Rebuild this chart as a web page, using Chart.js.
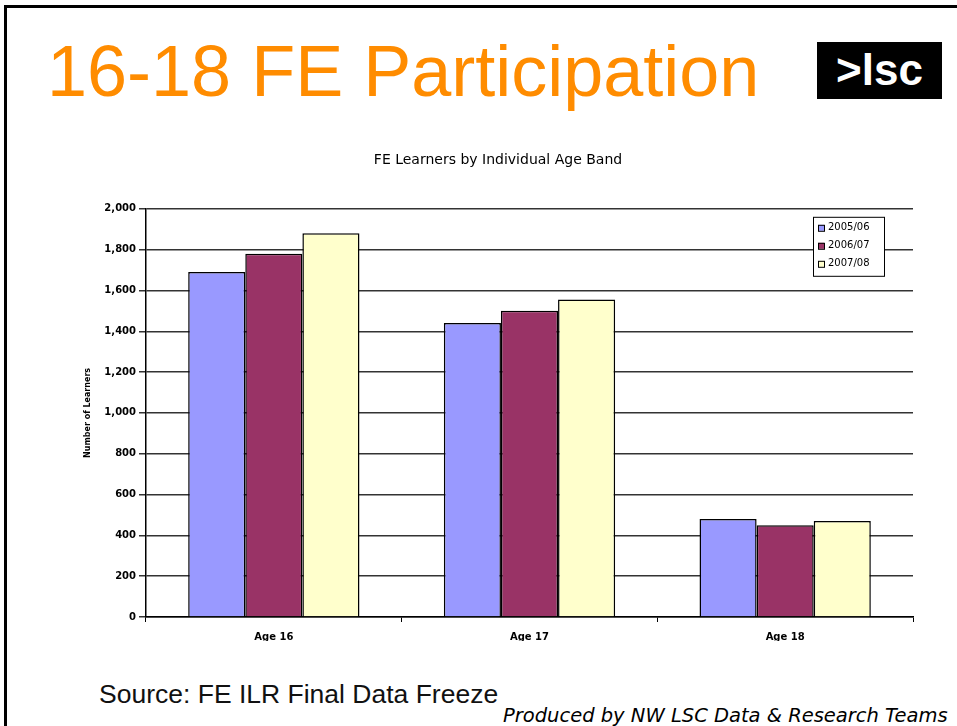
<!DOCTYPE html>
<html lang="en">
<head>
    <meta charset="UTF-8">
    <title>16-18 FE Participation</title>
    <style>
        body, html {
            margin: 0;
            padding: 0;
            width: 957px;
            height: 726px;
            overflow: hidden;
            background: #ffffff;
            font-family: Arial, "Liberation Sans", sans-serif;
        }

        .frame {
            position: absolute;
            left: 4px;
            top: 5px;
            width: 1000px;
            height: 800px;
            border-top: 3px solid #000;
            border-left: 3px solid #000;
        }

        .heading {
            position: absolute;
            left: 47px;
            top: 31px;
            font-size: 72px;
            color: #ff8c00;
            line-height: 80px;
            white-space: nowrap;
        }

        .logo {
            position: absolute;
            left: 817px;
            top: 42px;
            width: 125px;
            height: 57px;
            background: #000;
            color: #fff;
            font-family: "Liberation Sans", Arial, sans-serif;
            font-weight: bold;
            font-size: 44px;
            line-height: 55px;
            text-align: center;
            letter-spacing: 0px;
        }

        .chart-box {
            position: absolute;
            left: 0;
            top: 130px;
            width: 957px;
            height: 530px;
        }

        .source {
            position: absolute;
            left: 99px;
            top: 679px;
            font-size: 26.5px;
            color: #111;
            white-space: nowrap;
        }

        .credit {
            position: absolute;
            left: 503px;
            top: 704px;
            font-family: "DejaVu Sans", sans-serif;
            font-style: italic;
            font-size: 19.5px;
            color: #000;
            white-space: nowrap;
        }
    </style>
</head>
<body>
    <div class="frame"></div>
    <div class="heading">16-18 FE Participation</div>
    <div class="logo">&gt;lsc</div>

    <div class="chart-box">
        <canvas id="age-chart" width="957" height="530"></canvas>
    </div>

    <div class="source">Source: FE ILR Final Data Freeze</div>
    <div class="credit">Produced by NW LSC Data &amp; Research Teams</div>

    <script src="https://cdn.jsdelivr.net/npm/chart.js"></script>
    <script>
        // values
        const ageBands = ['Age 16', 'Age 17', 'Age 18'];
        const years = ['2005/06', '2006/07', '2007/08'];
        const learners0506 = [1690, 1440, 480];
        const learners0607 = [1780, 1500, 450];
        const learners0708 = [1880, 1555, 470];
        const yTicks = [0, 200, 400, 600, 800, 1000, 1200, 1400, 1600, 1800, 2000];

        const barColours = ['#9999ff', '#993366', '#ffffcc'];

        // legend box sits inside the plot, top right
        const boxLegend = {
            id: 'boxLegend',
            afterDraw(chart) {
                const ctx = chart.ctx;
                const area = chart.chartArea;
                const x = area.right - 100;
                const y = area.top + 8;
                const w = 71;
                const h = 59;
                ctx.save();
                ctx.fillStyle = '#fff';
                ctx.fillRect(x, y, w, h);
                ctx.strokeStyle = '#000';
                ctx.lineWidth = 1;
                ctx.strokeRect(x + 0.5, y + 0.5, w, h);
                ctx.font = '10px "DejaVu Sans"';
                ctx.textBaseline = 'middle';
                chart.data.datasets.forEach((ds, i) => {
                    const rowY = y + 11 + i * 18;
                    ctx.fillStyle = ds.backgroundColor;
                    ctx.fillRect(x + 5, rowY - 3, 6, 6);
                    ctx.strokeStyle = '#000';
                    ctx.strokeRect(x + 5.5, rowY - 2.5, 6, 6);
                    ctx.fillStyle = '#000';
                    ctx.fillText(ds.label, x + 15, rowY);
                });
                ctx.restore();
            }
        };

        const ctx = document.getElementById('age-chart').getContext('2d');
        new Chart(ctx, {
            type: 'bar',
            data: {
                labels: ageBands,
                datasets: [
                    { label: years[0], data: learners0506, backgroundColor: barColours[0] },
                    { label: years[1], data: learners0607, backgroundColor: barColours[1] },
                    { label: years[2], data: learners0708, backgroundColor: barColours[2] }
                ]
            },
            options: {
                responsive: false,
                animation: false,
                layout: {
                    padding: { left: 83, right: 44, top: 0, bottom: 19 }
                },
                datasets: {
                    bar: {
                        borderColor: '#000',
                        borderWidth: 1.5,
                        categoryPercentage: 0.67,
                        barPercentage: 1.0
                    }
                },
                plugins: {
                    legend: { display: false },
                    tooltip: { enabled: false },
                    title: {
                        display: true,
                        text: 'FE Learners by Individual Age Band',
                        color: '#000',
                        font: { family: '"DejaVu Sans"', size: 14, weight: 'normal' },
                        padding: { top: 22, bottom: 40 }
                    }
                },
                scales: {
                    x: {
                        afterFit(scale) { scale.height = 24; },
                        grid: {
                            drawOnChartArea: false,
                            drawTicks: true,
                            tickLength: 5,
                            color: '#000',
                            offset: true
                        },
                        border: { color: '#000', width: 1.5 },
                        ticks: {
                            color: '#000',
                            padding: 9,
                            font: { family: '"DejaVu Sans"', size: 10, weight: 'bold' }
                        }
                    },
                    y: {
                        min: 0,
                        max: 2000,
                        afterFit(scale) { scale.width = 63; },
                        afterBuildTicks(scale) {
                            scale.ticks = yTicks.map(v => ({ value: v }));
                        },
                        grid: {
                            color: '#333',
                            lineWidth: 1.5,
                            tickLength: 7
                        },
                        border: { color: '#000', width: 1.5 },
                        ticks: {
                            color: '#000',
                            padding: 3,
                            font: { family: '"DejaVu Sans"', size: 10, weight: 'bold' },
                            callback: v => v.toLocaleString('en-US')
                        },
                        title: {
                            display: true,
                            text: 'Number of Learners',
                            color: '#000',
                            padding: 0,
                            font: { family: '"DejaVu Sans"', size: 8, weight: 'bold' }
                        }
                    }
                }
            },
            plugins: [boxLegend]
        });
    </script>
</body>
</html>
